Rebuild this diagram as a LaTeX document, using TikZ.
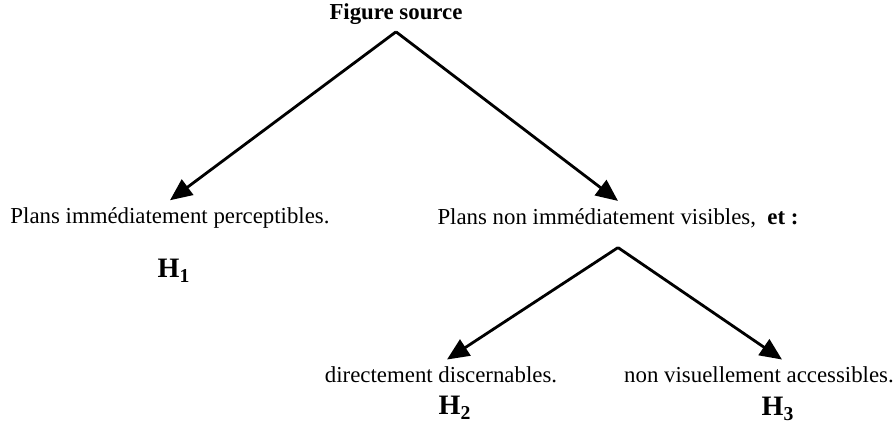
\documentclass[tikz,border=0pt]{standalone}
\usepackage{fontspec}
\setmainfont{Liberation Serif}
\usetikzlibrary{arrows.meta, positioning}

\begin{document}
\begin{tikzpicture}[x=0.02cm, y=-0.02cm]
	
	\tikzset{plan text/.style={
			font=\fontsize{13}{15}\selectfont,
			inner sep=4pt
		},
		hyp label/.style={
			font=\fontsize{16}{18}\selectfont\bfseries,
			inner sep=1pt
		},
		branch arrow/.style={
			line width=1.6pt,
			-{Triangle[length=0.44cm, width=0.38cm]}
		}
	}
	
	\useasboundingbox (0,0) rectangle (896,425);
	
	\node[plan text, font=\fontsize{13}{15}\selectfont\bfseries] (source) at (396,14) {Figure source};
	
	\node[plan text] (immediate) at (170,218) {Plans immédiatement perceptibles.};
	\node[plan text] (hidden) at (618,218) {Plans non immédiatement visibles, \ \textbf{et :}};
	\node[hyp label] (h1) at (174,271) {H\textsubscript{1}};
	
	\node[plan text] (direct) at (441,375) {directement discernables.};
	\node[plan text] (access) at (759,375) {non visuellement accessibles.};
	\node[hyp label] (h2) at (455,408) {H\textsubscript{2}};
	\node[hyp label] (h3) at (778,409) {H\textsubscript{3}};
	
	\draw[branch arrow] (source.south) -- (immediate.north);
	\draw[branch arrow] (source.south) -- (hidden.north);
	\draw[branch arrow] ([yshift=-0.25cm]hidden.south) -- ([xshift=0.12cm]direct.north);
	\draw[branch arrow] ([yshift=-0.25cm]hidden.south) -- ([xshift=0.46cm]access.north);
	
\end{tikzpicture}
\end{document}
